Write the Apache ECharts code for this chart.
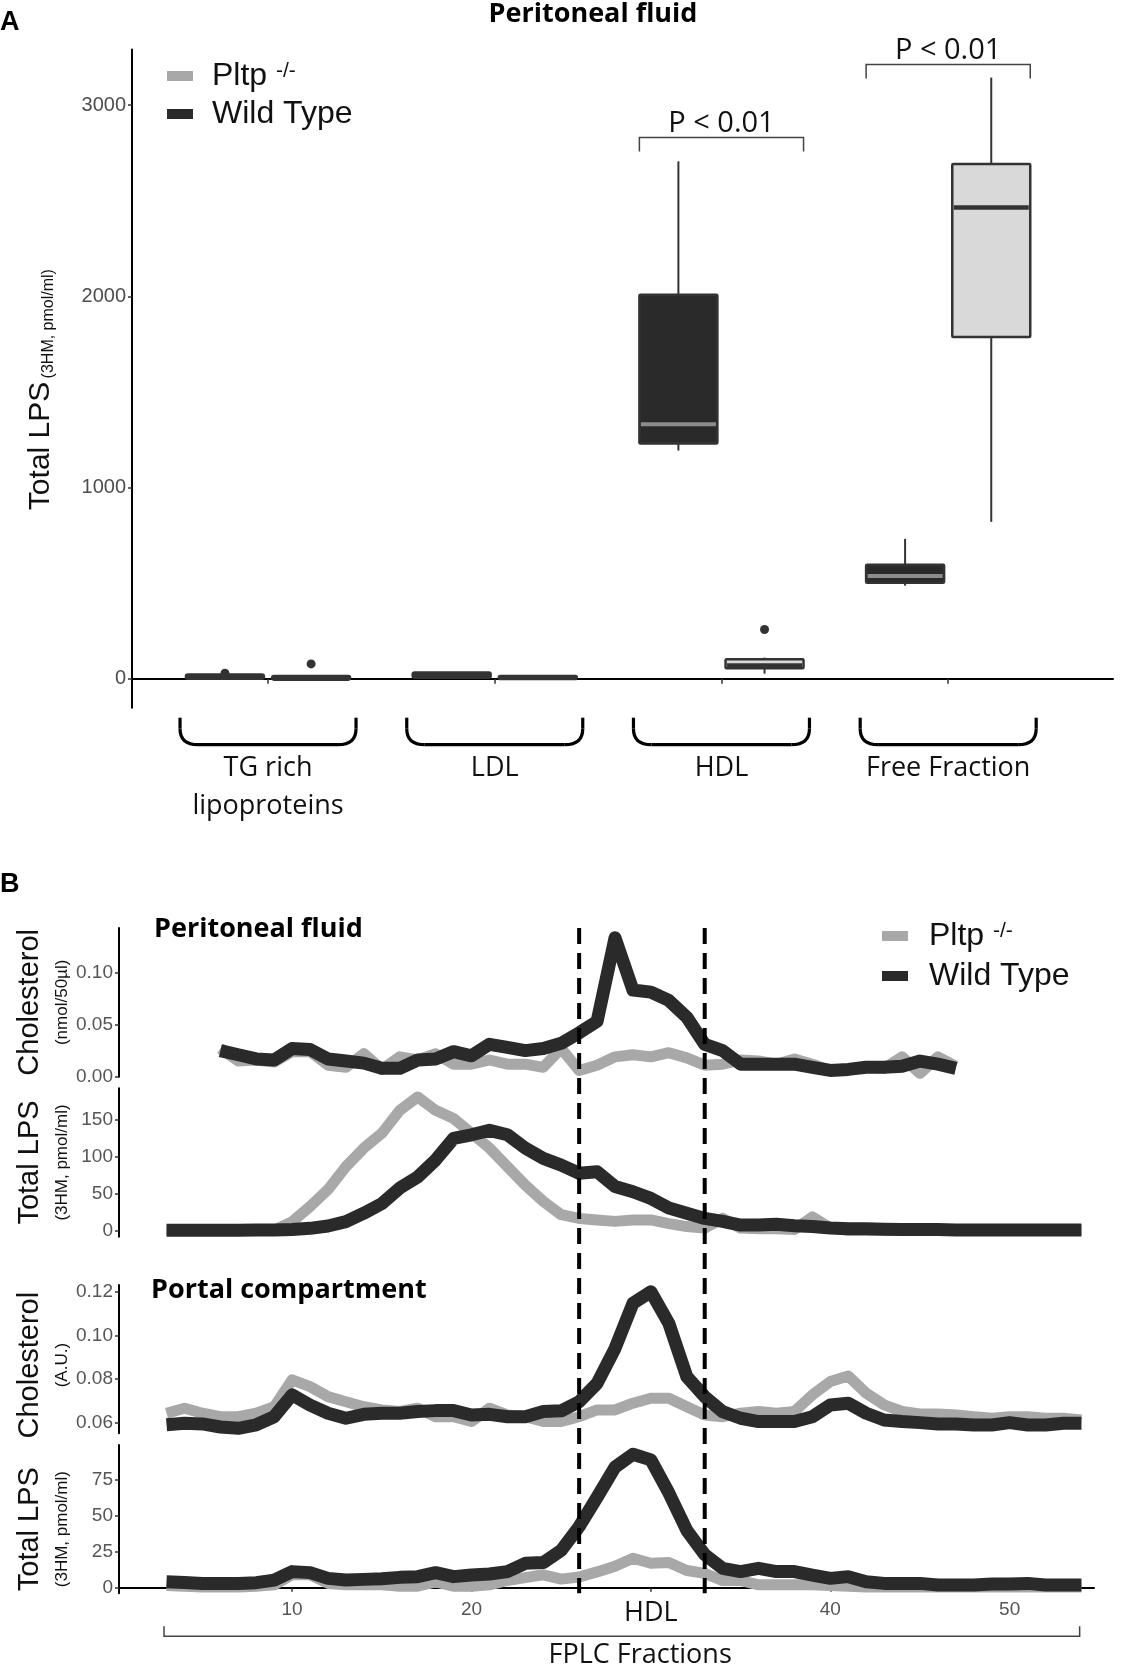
<!DOCTYPE html>
<html><head><meta charset="utf-8">
<script src="https://cdn.jsdelivr.net/npm/echarts@6/dist/echarts.min.js"></script>
<style>html,body{margin:0;padding:0;background:#fff}#c{width:1129px;height:1666px}</style>
</head><body><div id="c"></div>
<script>
// ---------- Panel A data ----------
const categoriesA = ['TG rich\nlipoproteins', 'LDL', 'HDL', 'Free Fraction'];
const categoryPositions = [1, 2, 3, 4];
// [category, min, q1, median, q3, max]
const wildTypeBoxes = [[1, 2, 5, 12, 18, 24], [2, 8, 11, 18, 28, 32], [3, 1194, 1231, 1331, 2008, 2706], [4, 487, 503, 538, 597, 732]];
const pltpBoxes = [[1, 0, 1, 4, 9, 12], [2, 2, 4, 7, 10, 12], [3, 27, 55, 70, 103, 111], [4, 821, 1788, 2465, 2692, 3144]];
const wildTypeOutliers = [[1, 29]];
const pltpOutliers = [[1, 78], [3, 258]];
const pBracketCats = [3, 4];
const pBracketY = [2831, 3212];
const pBracketLabels = ['P < 0.01', 'P < 0.01'];
const yTicksA = [0, 1000, 2000, 3000];

// ---------- Panel B data ----------
const fractionsPeritonealChol = [6,7,8,9,10,11,12,13,14,15,16,17,18,19,20,21,22,23,24,25,26,27,28,29,30,31,32,33,34,35,36,37,38,39,40,41,42,43,44,45,46,47];
const fractionsAll = [3,4,5,6,7,8,9,10,11,12,13,14,15,16,17,18,19,20,21,22,23,24,25,26,27,28,29,30,31,32,33,34,35,36,37,38,39,40,41,42,43,44,45,46,47,48,49,50,51,52,53,54];
const peritonealCholWT = [0.025,0.021,0.017,0.016,0.027,0.026,0.017,0.015,0.013,0.008,0.008,0.016,0.017,0.024,0.020,0.031,0.028,0.025,0.027,0.032,0.042,0.053,0.133,0.083,0.081,0.073,0.057,0.031,0.025,0.012,0.012,0.012,0.012,0.009,0.006,0.007,0.009,0.009,0.010,0.015,0.012,0.008];
const peritonealCholPltp = [0.027,0.015,0.016,0.014,0.024,0.024,0.011,0.009,0.022,0.007,0.019,0.016,0.022,0.012,0.012,0.016,0.012,0.012,0.009,0.027,0.006,0.011,0.019,0.021,0.019,0.023,0.018,0.011,0.012,0.016,0.015,0.012,0.017,0.012,0.006,0.007,0.009,0.008,0.019,0.003,0.019,0.010];
const peritonealLpsWT = [1,1,1,1,1,1.5,1.5,2,3.6,6.8,12.6,24,37,58,73,96,125,130,136,130,112,98,89,78,80,60,53,44,31,24,17,13,8,8,9,7,6,4,3,3,2.5,2,2,2,1.5,1.5,1.5,1.5,1.5,1.5,1.5,1.5];
const peritonealLpsPltp = [1,1,1,1,1,1,1,12.6,33,56,87,112,132,163,181,163,152,132,112,87,62,40,22,17,15,13,15,15,10,6,4,17,4,3,3,2,19,4,1,1,1,1,1,1,1,1,1,1,1,1,1,1];
const portalCholWT = [0.059,0.0597,0.0594,0.058,0.0574,0.059,0.0627,0.0727,0.068,0.0643,0.062,0.0638,0.0643,0.0643,0.0651,0.0655,0.0655,0.0635,0.0638,0.0627,0.0627,0.0651,0.0654,0.0696,0.078,0.094,0.1147,0.120,0.1055,0.0811,0.0719,0.065,0.062,0.0605,0.0605,0.0605,0.0627,0.0681,0.0689,0.0643,0.0612,0.0605,0.060,0.0594,0.0594,0.0589,0.0589,0.060,0.0589,0.0589,0.0597,0.0597];
const portalCholPltp = [0.0643,0.0666,0.0643,0.0627,0.0627,0.0643,0.0673,0.0796,0.0765,0.0719,0.0696,0.0673,0.0658,0.0651,0.0666,0.0627,0.0627,0.0605,0.0666,0.0635,0.0627,0.0605,0.0605,0.0627,0.0658,0.0658,0.0689,0.0712,0.0712,0.0673,0.0635,0.0627,0.0643,0.0651,0.0643,0.0651,0.0727,0.0788,0.0814,0.0735,0.0681,0.0651,0.064,0.064,0.0635,0.0627,0.062,0.0627,0.0627,0.062,0.062,0.0612];
const portalLpsWT = [4.2,3.7,3.0,3.0,3.0,3.5,5.3,11.2,10.5,6.5,5.3,5.8,6.3,7.2,7.7,10.5,7.7,8.8,9.5,11.2,17,17.5,26,42.5,63,84,93,89,66,40,23,13.5,11.2,13.5,11.2,11.2,8.8,6.5,7.7,4.2,3.0,3.0,3.0,1.9,1.9,1.9,2.6,2.6,3.0,1.9,1.9,1.9];
const portalLpsPltp = [1.5,1,0.5,0.5,0.5,1,2,9,9,3,2,2,2,1,1,4,1,1,2,5,7,9,6,7.5,11,15,20.5,17,17.5,12,10,5,5,2,2,2,2,1.5,1,0.5,0.5,0.5,0.5,0.5,0.5,0.5,0.5,0.5,0.5,0.5,0.5,0.5];
const hdlBoundaries = [26, 33];
const xTicksB = [10, 20, 30, 40, 50];
const fplcBracket = [2.86, 53.9];
const fplcLabelX = 29.4;

const yTicks1 = [0, 0.05, 0.10];
const yTicks2 = [0, 50, 100, 150];
const yTicks3 = [0.06, 0.08, 0.10, 0.12];
const yTicks4 = [0, 25, 50, 75];

// ---------- Styling constants ----------
const DARK = '#2a2a2a', GRAY = '#a8a8a8';
const DODGE = 0.19, BOXW = 0.344;
const Y_MIN_A = -151;
const SANS = '"Liberation Sans", Arial, sans-serif';
const OPEN = '"Open Sans", sans-serif';

function zip(xs, ys) { return xs.map((x, i) => [x, ys[i]]); }

function boxRender(dodge, fill, medianColor, medianWidth) {
  return function (params, api) {
    const x = api.value(0) + dodge;
    const pMin = api.coord([x, api.value(1)]);
    const pQ1 = api.coord([x, api.value(2)]);
    const pMed = api.coord([x, api.value(3)]);
    const pQ3 = api.coord([x, api.value(4)]);
    const pMax = api.coord([x, api.value(5)]);
    const hw = api.size([BOXW, 0])[0] / 2;
    const h = pQ1[1] - pQ3[1];
    const children = [
      { type: 'line', shape: { x1: pMax[0], y1: pMax[1], x2: pQ3[0], y2: pQ3[1] }, style: { stroke: '#333', lineWidth: 2 } },
      { type: 'line', shape: { x1: pQ1[0], y1: pQ1[1], x2: pMin[0], y2: pMin[1] }, style: { stroke: '#333', lineWidth: 2 } }
    ];
    if (h < 6) {
      children.push({ type: 'rect', shape: { x: pQ3[0] - hw, y: pQ3[1] - 1, width: 2 * hw, height: Math.max(h, 1) + 2, r: 2 }, style: { fill: '#333', stroke: '#333', lineWidth: 2.5, lineJoin: 'round' } });
    } else {
      children.push({ type: 'rect', shape: { x: pQ3[0] - hw, y: pQ3[1], width: 2 * hw, height: h, r: 1 }, style: { fill: fill, stroke: '#333', lineWidth: 2.5, lineJoin: 'round' } });
      children.push({ type: 'line', shape: { x1: pQ3[0] - hw + 1.5, y1: pMed[1], x2: pQ3[0] + hw - 1.5, y2: pMed[1] }, style: { stroke: medianColor, lineWidth: medianWidth } });
    }
    return { type: 'group', children: children };
  };
}
function outlierRender(dodge) {
  return function (params, api) {
    const p = api.coord([api.value(0) + dodge, api.value(1)]);
    return { type: 'circle', shape: { cx: p[0], cy: p[1], r: 4.5 }, style: { fill: '#333' } };
  };
}
function braceRender(params, api) {
  const p = api.coord([api.value(0), Y_MIN_A]);
  const L = p[0] - 88, R = p[0] + 88, t = p[1] + 10, b = p[1] + 37;
  const st = { stroke: '#000', lineWidth: 3.2, fill: null };
  return {
    type: 'group', children: [
      { type: 'line', shape: { x1: L, y1: t, x2: L, y2: b - 16 }, style: st },
      { type: 'bezierCurve', shape: { x1: L, y1: b - 16, cpx1: L, cpy1: b, x2: L + 18, y2: b }, style: st },
      { type: 'line', shape: { x1: L + 18, y1: b, x2: R - 18, y2: b }, style: st },
      { type: 'bezierCurve', shape: { x1: R - 18, y1: b, cpx1: R, cpy1: b, x2: R, y2: b - 16 }, style: st },
      { type: 'line', shape: { x1: R, y1: b - 16, x2: R, y2: t }, style: st }
    ]
  };
}
function pBracketRender(params, api) {
  const cat = api.value(0), yv = api.value(1);
  const l = api.coord([cat - DODGE - BOXW / 2, yv]);
  const r = api.coord([cat + DODGE + BOXW / 2, yv]);
  const y = l[1];
  return {
    type: 'group', children: [
      { type: 'polyline', shape: { points: [[l[0], y + 14], [l[0], y], [r[0], y], [r[0], y + 14]] }, style: { fill: null, stroke: '#444', lineWidth: 1.5 } },
      { type: 'text', style: { text: pBracketLabels[params.dataIndex], x: (l[0] + r[0]) / 2, y: y - 14, align: 'center', verticalAlign: 'middle', font: '29px ' + OPEN, fill: '#111' } }
    ]
  };
}
function dashRender(params, api) {
  const top = api.coord([api.value(0), 1]);
  const bot = api.coord([api.value(0), 0]);
  return { type: 'line', shape: { x1: top[0], y1: top[1], x2: bot[0], y2: bot[1] }, style: { stroke: '#000', lineWidth: 4, lineDash: [16, 9] } };
}
function fplcRender(params, api) {
  const a = api.coord([api.value(0), -3.9]);
  const b = api.coord([api.value(1), -3.9]);
  const y0 = a[1];
  const c = api.coord([fplcLabelX, -3.9]);
  return {
    type: 'group', children: [
      { type: 'polyline', shape: { points: [[a[0], y0 + 33], [a[0], y0 + 43], [b[0], y0 + 43], [b[0], y0 + 33]] }, style: { fill: null, stroke: '#444', lineWidth: 1.5 } },
      { type: 'text', style: { text: 'FPLC Fractions', x: c[0], y: y0 + 62, align: 'center', verticalAlign: 'middle', font: '27px ' + OPEN, fill: '#111' } }
    ]
  };
}

const LEFT_B = 119, WIDTH_B = 975;
const grids = [
  { left: 132, top: 49.5, width: 981, height: 658.2 },
  { left: LEFT_B, top: 928, width: WIDTH_B, height: 148.7 },
  { left: LEFT_B, top: 1088.3, width: WIDTH_B, height: 148.4 },
  { left: LEFT_B, top: 1285, width: WIDTH_B, height: 148.3 },
  { left: LEFT_B, top: 1445, width: WIDTH_B, height: 148.3 },
  { left: LEFT_B, top: 928, width: WIDTH_B, height: 665.3 }
];

function hiddenX(i) { return { type: 'value', gridIndex: i, min: 0.35, max: 54.7, show: false }; }
function yB(i, min, max, ticks, dec, name, shift) {
  return {
    type: 'value', gridIndex: i, min: min, max: max,
    axisLine: { show: true, lineStyle: { color: '#000', width: 2 } },
    axisTick: { show: true, length: 4, customValues: ticks, lineStyle: { color: '#333', width: 1.5 } },
    axisLabel: { customValues: ticks, margin: 6, fontSize: 19, fontFamily: SANS, color: '#555', formatter: v => v.toFixed(dec) },
    splitLine: { show: false },
    name: name, nameLocation: 'middle', nameRotate: 90, nameGap: 43, nameMoveOverlap: false,
    nameTextStyle: {
      padding: [0, shift, 0, 0],
      rich: {
        a: { fontSize: 29, fontFamily: SANS, color: '#111', lineHeight: 36 },
        b: { fontSize: 17, fontFamily: SANS, color: '#111', lineHeight: 28 }
      }
    }
  };
}

const lineCommon = { type: 'line', showSymbol: false, symbol: 'none', animation: false, silent: true, emphasis: { disabled: true } };
function lineSeries(name, gi, data, color, width, z) {
  return Object.assign({}, lineCommon, {
    name: name, xAxisIndex: gi, yAxisIndex: gi, data: data, z: z,
    itemStyle: { color: color },
    lineStyle: { color: color, width: width, cap: 'butt', join: 'round' }
  });
}
function legendCfg(left, top, gap, pad) {
  return {
    left: left, top: top, padding: 0, orient: 'vertical', icon: 'rect', itemWidth: 26, itemHeight: 10, itemGap: gap,
    selectedMode: false,
    data: [{ name: 'Pltp -/-', itemStyle: { color: GRAY } }, { name: 'Wild Type', itemStyle: { color: DARK } }],
    formatter: n => n === 'Pltp -/-' ? 'Pltp {s|-/-}' : n,
    textStyle: { fontSize: 32, fontFamily: SANS, color: '#111', lineHeight: 31, padding: [0, 0, 0, pad],
      rich: { s: { fontSize: 21, fontFamily: SANS, color: '#111', verticalAlign: 'top', lineHeight: 18 } } }
  };
}

const option = {
  animation: false,
  backgroundColor: '#fff',
  grid: grids,
  legend: [legendCfg(167, 60, 6, 14), legendCfg(882, 920, 8, 16)],
  graphic: [
    { type: 'text', x: 0, y: 23, style: { text: 'A', font: 'bold 27px ' + SANS, fill: '#000', verticalAlign: 'middle' } },
    { type: 'text', x: 0, y: 885, style: { text: 'B', font: 'bold 27px ' + SANS, fill: '#000', verticalAlign: 'middle' } },
    { type: 'text', x: 593, y: 14, style: { text: 'Peritoneal fluid', font: 'bold 27px ' + OPEN, fill: '#000', align: 'center', verticalAlign: 'middle' } },
    { type: 'text', x: 154, y: 929, style: { text: 'Peritoneal fluid', font: 'bold 27px ' + OPEN, fill: '#000', verticalAlign: 'middle' } },
    { type: 'text', x: 151, y: 1290, style: { text: 'Portal compartment', font: 'bold 27px ' + OPEN, fill: '#000', verticalAlign: 'middle' } }
  ],
  xAxis: [
    {
      type: 'value', gridIndex: 0, min: 0.4, max: 4.727,
      axisLine: { show: true, lineStyle: { color: '#000', width: 2 } },
      axisTick: { show: true, length: 5, customValues: categoryPositions, lineStyle: { color: '#333', width: 1.5 } },
      axisLabel: { customValues: categoryPositions, margin: 42, fontSize: 27, lineHeight: 38, fontFamily: OPEN, color: '#111',
        formatter: v => categoriesA[Math.round(v) - 1] },
      splitLine: { show: false }
    },
    hiddenX(1), hiddenX(2), hiddenX(3),
    {
      type: 'value', gridIndex: 4, min: 0.35, max: 54.7,
      axisLine: { show: true, lineStyle: { color: '#000', width: 2 } },
      axisTick: { show: true, length: 4, customValues: xTicksB, lineStyle: { color: '#333', width: 1.5 } },
      axisLabel: { customValues: xTicksB, margin: 7,
        formatter: v => Math.round(v) === 30 ? '{h|HDL}' : '{n|' + Math.round(v) + '}',
        rich: {
          n: { fontSize: 19, lineHeight: 19, fontFamily: SANS, color: '#555' },
          h: { fontSize: 27, lineHeight: 27, fontFamily: OPEN, color: '#111' }
        } },
      splitLine: { show: false }
    },
    hiddenX(5)
  ],
  yAxis: [
    {
      type: 'value', gridIndex: 0, min: Y_MIN_A, max: 3291,
      axisLine: { show: true, lineStyle: { color: '#000', width: 2 } },
      axisTick: { show: true, length: 4, customValues: yTicksA, lineStyle: { color: '#333', width: 1.5 } },
      axisLabel: { customValues: yTicksA, margin: 6, fontSize: 20, fontFamily: SANS, color: '#4d4d4d', formatter: v => String(Math.round(v)) },
      splitLine: { show: false },
      name: '{a|Total LPS} {b|(3HM, pmol/ml)}', nameLocation: 'middle', nameRotate: 90, nameGap: 75,
      nameTextStyle: { padding: [0, 22, 0, 0], rich: {
        a: { fontSize: 30, fontFamily: SANS, color: '#111', lineHeight: 32 },
        b: { fontSize: 16, fontFamily: SANS, color: '#111', lineHeight: 22, verticalAlign: 'bottom' }
      } }
    },
    yB(1, 0, 0.1424, yTicks1, 2, '{a|Cholesterol}\n{b|(nmol/50µl)}', 0),
    yB(2, -7.7, 192.8, yTicks2, 0, '{a|Total LPS}\n{b|(3HM, pmol/ml)}', 0),
    yB(3, 0.0551, 0.1231, yTicks3, 2, '{a|Cholesterol}\n{b|(A.U.)}', 12),
    yB(4, -3.9, 99.4, yTicks4, 0, '{a|Total LPS}\n{b|(3HM, pmol/ml)}', 20),
    { type: 'value', gridIndex: 5, min: 0, max: 1, show: false }
  ],
  series: [
    { type: 'custom', name: 'Wild Type', xAxisIndex: 0, yAxisIndex: 0, itemStyle: { color: DARK }, renderItem: boxRender(-DODGE, DARK, '#8c8c8c', 4), data: wildTypeBoxes, encode: { x: 0, y: [1, 2, 3, 4, 5] }, z: 3 },
    { type: 'custom', name: 'Pltp -/-', xAxisIndex: 0, yAxisIndex: 0, itemStyle: { color: '#d9d9d9' }, renderItem: boxRender(DODGE, '#d9d9d9', '#333', 4.5), data: pltpBoxes, encode: { x: 0, y: [1, 2, 3, 4, 5] }, z: 3 },
    { type: 'custom', name: 'Wild Type', xAxisIndex: 0, yAxisIndex: 0, renderItem: outlierRender(-DODGE), data: wildTypeOutliers, encode: { x: 0, y: 1 }, z: 4 },
    { type: 'custom', name: 'Pltp -/-', xAxisIndex: 0, yAxisIndex: 0, renderItem: outlierRender(DODGE), data: pltpOutliers, encode: { x: 0, y: 1 }, z: 4 },
    { type: 'custom', name: 'braces', xAxisIndex: 0, yAxisIndex: 0, renderItem: braceRender, data: categoryPositions.map(c => [c]), encode: { x: 0 }, clip: false, silent: true },
    { type: 'custom', name: 'pvalues', xAxisIndex: 0, yAxisIndex: 0, renderItem: pBracketRender, data: zip(pBracketCats, pBracketY), encode: { x: 0, y: 1 }, clip: false, silent: true },

    lineSeries('Pltp -/-', 1, zip(fractionsPeritonealChol, peritonealCholPltp), GRAY, 11, 2),
    lineSeries('Wild Type', 1, zip(fractionsPeritonealChol, peritonealCholWT), DARK, 13, 3),
    lineSeries('Pltp -/-', 2, zip(fractionsAll, peritonealLpsPltp), GRAY, 11, 2),
    lineSeries('Wild Type', 2, zip(fractionsAll, peritonealLpsWT), DARK, 13, 3),
    lineSeries('Pltp -/-', 3, zip(fractionsAll, portalCholPltp), GRAY, 11, 2),
    lineSeries('Wild Type', 3, zip(fractionsAll, portalCholWT), DARK, 13, 3),
    lineSeries('Pltp -/-', 4, zip(fractionsAll, portalLpsPltp), GRAY, 11, 2),
    lineSeries('Wild Type', 4, zip(fractionsAll, portalLpsWT), DARK, 13, 3),

    { type: 'custom', name: 'hdl', xAxisIndex: 5, yAxisIndex: 5, renderItem: dashRender, data: hdlBoundaries.map(x => [x]), encode: { x: 0 }, z: 10, silent: true },
    { type: 'custom', name: 'fplc', xAxisIndex: 4, yAxisIndex: 4, renderItem: fplcRender, data: [fplcBracket], encode: { x: [0, 1] }, clip: false, silent: true }
  ]
};

const chart = echarts.init(document.getElementById('c'), null, { renderer: 'canvas' });
chart.setOption(option);
</script>
</body></html>
